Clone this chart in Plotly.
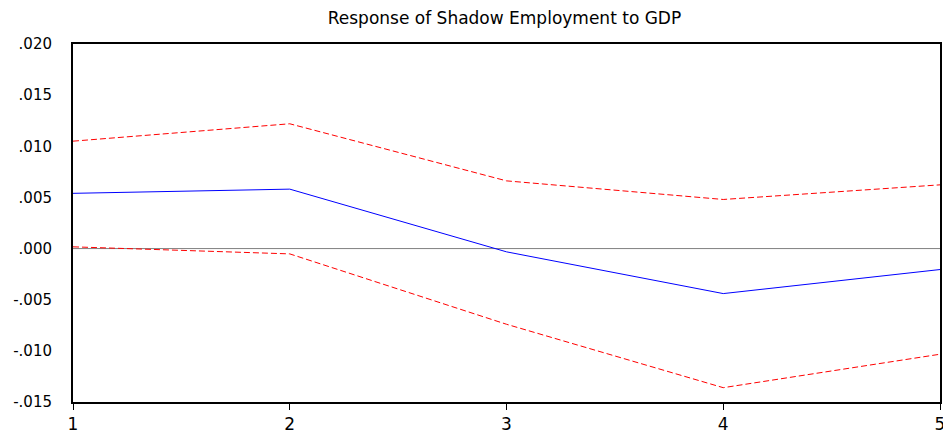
import plotly.graph_objects as go

periods = [1, 2, 3, 4, 5]
response = [0.00540, 0.00581, -0.00032, -0.00440, -0.00205]
upper_band = [0.01050, 0.01220, 0.00662, 0.00480, 0.00623]
lower_band = [0.00017, -0.00052, -0.00740, -0.01360, -0.01033]

y_tick_vals = [0.020, 0.015, 0.010, 0.005, 0.000, -0.005, -0.010, -0.015]
y_tick_text = [".020", ".015", ".010", ".005", ".000", "-.005", "-.010", "-.015"]
x_tick_text = ["1", "2", "3", "4", "5"]

FONT = "DejaVu Sans, Verdana, sans-serif"

fig = go.Figure()
fig.add_trace(go.Scatter(x=periods, y=[0] * len(periods), mode="lines",
                         line=dict(color="#808080", width=1), hoverinfo="skip"))
fig.add_trace(go.Scatter(x=periods, y=upper_band, mode="lines",
                         line=dict(color="#ff0000", width=1, dash="6px,3px")))
fig.add_trace(go.Scatter(x=periods, y=lower_band, mode="lines",
                         line=dict(color="#ff0000", width=1, dash="6px,3px")))
fig.add_trace(go.Scatter(x=periods, y=response, mode="lines",
                         line=dict(color="#0000ff", width=1)))

# page body has an 8px margin, so the figure is 8px smaller than the window
fig.update_layout(
    width=943, height=426,
    margin=dict(l=65, r=11, t=36, b=32, autoexpand=False),
    paper_bgcolor="white", plot_bgcolor="white",
    showlegend=False,
    title=dict(text="Response of Shadow Employment to GDP", x=0.5265, xanchor="center",
               y=0.9765, yanchor="middle", automargin=False,
               font=dict(family=FONT, size=17, color="black")),
    xaxis=dict(range=[1, 5], tickvals=periods, ticktext=x_tick_text, automargin=False,
               showgrid=False, zeroline=False, showline=True, linecolor="black", linewidth=2,
               mirror=True, ticks="outside", ticklen=6, tickcolor="black", tickwidth=1,
               tickfont=dict(family=FONT, size=17, color="black")),
    yaxis=dict(range=[-0.015, 0.020], tickvals=y_tick_vals, ticktext=y_tick_text, automargin=False,
               showgrid=False, zeroline=False, showline=True, linecolor="black", linewidth=2,
               mirror=True, ticks="", ticklabelstandoff=16,
               tickfont=dict(family=FONT, size=15, color="black")),
)

fig.write_html("out.html")
